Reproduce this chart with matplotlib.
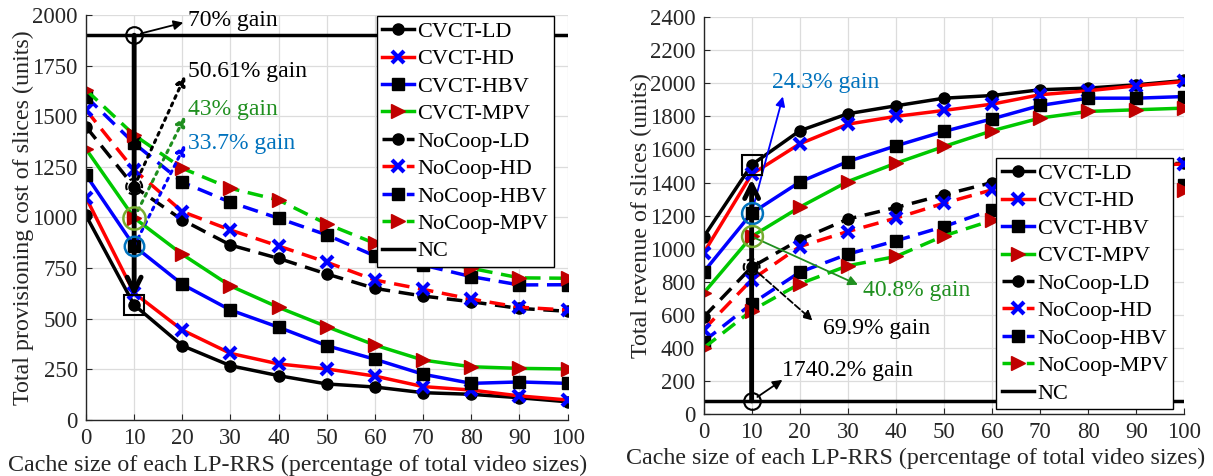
import matplotlib
matplotlib.use("Agg")
import matplotlib.pyplot as plt
from matplotlib.patches import Ellipse
import numpy as np

plt.rcParams['font.family'] = ['Liberation Serif', 'DejaVu Serif']
plt.rcParams['mathtext.fontset'] = 'stix'

x = [0, 10, 20, 30, 40, 50, 60, 70, 80, 90, 100]

# ---- Left: provisioning cost ----
cost_cvct_ld = [1010, 568, 367, 268, 219, 178, 163, 135, 127, 110, 90]
cost_cvct_hd = [1098, 627, 444, 329, 277, 252, 217, 165, 148, 119, 99]
cost_cvct_hbv = [1210, 859, 670, 543, 458, 367, 300, 226, 181, 188, 181]
cost_cvct_mpv = [1338, 998, 818, 662, 556, 461, 370, 296, 263, 255, 252]
cost_nc_ld = [1448, 1152, 988, 864, 798, 721, 650, 612, 584, 551, 537]
cost_nc_hd = [1531, 1235, 1029, 938, 859, 779, 691, 645, 597, 557, 543]
cost_nc_hbv = [1597, 1366, 1174, 1075, 996, 914, 810, 765, 708, 667, 668]
cost_nc_mpv = [1630, 1407, 1243, 1144, 1086, 968, 872, 800, 749, 702, 700]
cost_nc = 1900

# ---- Right: revenue ----
rev_cvct_ld = [1070, 1507, 1713, 1816, 1864, 1910, 1926, 1961, 1971, 1991, 2017]
rev_cvct_hd = [973, 1450, 1634, 1753, 1800, 1836, 1874, 1931, 1955, 1985, 2011]
rev_cvct_hbv = [858, 1215, 1403, 1527, 1622, 1709, 1785, 1866, 1910, 1910, 1920]
rev_cvct_mpv = [731, 1074, 1251, 1406, 1517, 1618, 1713, 1790, 1830, 1840, 1850]
rev_nc_ld = [586, 889, 1054, 1179, 1249, 1326, 1400, 1447, 1467, 1507, 1517]
rev_nc_hd = [510, 812, 1013, 1104, 1185, 1275, 1356, 1420, 1465, 1503, 1512]
rev_nc_hbv = [439, 667, 858, 967, 1048, 1134, 1235, 1290, 1330, 1365, 1386]
rev_nc_mpv = [399, 626, 788, 897, 953, 1078, 1171, 1230, 1280, 1320, 1352]
rev_nc = 80

labels = ['CVCT-LD', 'CVCT-HD', 'CVCT-HBV', 'CVCT-MPV',
          'NoCoop-LD', 'NoCoop-HD', 'NoCoop-HBV', 'NoCoop-MPV', 'NC']

RED = '#ff0000'
BLUE = '#0000ff'
GREEN = '#00c800'
TRI = '#c00000'
MBLUE = '#0072BD'
DGREEN = '#1f8f1f'
OLIVE = '#77AC30'
TXT = '#262626'

styles = [
    dict(color='black', marker='o', mfc='black', mec='black', ms=8),
    dict(color=RED, marker='x', mfc=BLUE, mec=BLUE, ms=8, mew=3),
    dict(color=BLUE, marker='s', mfc='black', mec='black', ms=8),
    dict(color=GREEN, marker='>', mfc=TRI, mec=TRI, ms=10),
]

fig = plt.figure(figsize=(12.13, 4.76), dpi=100)
ax1 = fig.add_axes([0.0709, 0.1176, 0.397, 0.851])
ax2 = fig.add_axes([0.580, 0.130, 0.3965, 0.834])


def draw(ax, cv, nc, ncval):
    hs = []
    for ys, st in zip(cv, styles):
        h, = ax.plot(x, ys, lw=2.5, **st)
        hs.append(h)
    for ys, st in zip(nc, styles):
        h, = ax.plot(x, ys, lw=2.5, ls=(0, (4.5, 2.5)), **st)
        hs.append(h)
    h = ax.axhline(ncval, color='black', lw=2.5)
    hs.append(h)
    return hs


def style_axes(ax):
    ax.grid(True, color='#dcdcdc', lw=0.9)
    ax.set_axisbelow(True)
    for s in ['top', 'right']:
        ax.spines[s].set_visible(False)
    for s in ['left', 'bottom']:
        ax.spines[s].set_color(TXT)
        ax.spines[s].set_linewidth(1.0)
    ax.tick_params(direction='in', length=4, width=0.8, colors=TXT, labelsize=16.5, pad=6)
    ax.set_xlim(0, 100)
    ax.set_xticks(range(0, 101, 10))
    ax.set_xlabel('Cache size of each LP-RRS (percentage of total video sizes)',
                  fontsize=17.3, color=TXT)
    ax.xaxis.set_label_coords(0.44, -0.085)
    ax.yaxis.set_label_coords(-0.108, 0.5)


hs1 = draw(ax1, [cost_cvct_ld, cost_cvct_hd, cost_cvct_hbv, cost_cvct_mpv],
           [cost_nc_ld, cost_nc_hd, cost_nc_hbv, cost_nc_mpv], cost_nc)
ax1.set_ylabel('Total provisioning cost of slices (units)', fontsize=17.3, color=TXT)
style_axes(ax1)
ax1.set_ylim(0, 2000)
ax1.set_yticks(range(0, 2001, 250))

hs2 = draw(ax2, [rev_cvct_ld, rev_cvct_hd, rev_cvct_hbv, rev_cvct_mpv],
           [rev_nc_ld, rev_nc_hd, rev_nc_hbv, rev_nc_mpv], rev_nc)
ax2.set_ylabel('Total revenue of slices (units)', fontsize=17.3, color=TXT)
style_axes(ax2)
ax2.set_ylim(0, 2400)
ax2.set_yticks(range(0, 2401, 200))

legkw = dict(fontsize=16, handlelength=1.45, handletextpad=0.12, labelspacing=0.31,
             borderpad=0.25, fancybox=False, framealpha=1, edgecolor='black',
             borderaxespad=0)
leg1 = ax1.legend(hs1, labels, loc='upper right', bbox_to_anchor=(0.971, 0.998), **legkw)
leg2 = ax2.legend(hs2, labels, loc='lower right', bbox_to_anchor=(0.977, 0.0126), **legkw)
for lg in (leg1, leg2):
    lg.get_frame().set_linewidth(1.0)
    lg.set_zorder(20)

AF = 17

# ---- Left annotations ----
ax1.annotate('', xy=(10, 610), xytext=(10, cost_nc),
             arrowprops=dict(arrowstyle='->', lw=3.5, color='black', mutation_scale=25,
                             shrinkA=0, shrinkB=0), zorder=6)
ax1.plot([10], [cost_nc], marker='o', ms=12, mfc='none', mec='black', mew=1.5, zorder=7)
ax1.plot([10], [cost_cvct_ld[1]], marker='s', ms=14, mfc='none', mec='black', mew=1.5, zorder=7)
ax1.plot([10], [cost_cvct_mpv[1]], marker='o', ms=16, mfc='none', mec=OLIVE, mew=1.8, zorder=7)
ax1.plot([10], [cost_cvct_hbv[1]], marker='o', ms=14, mfc='none', mec=MBLUE, mew=1.8, zorder=7)
ax1.add_patch(Ellipse((10, cost_nc_ld[1]), 3.3, 78, fill=False, ls='--', lw=1.5,
                      ec='black', zorder=7))

ax1.annotate('70% gain', xy=(20.2, 1962), xytext=(21.2, 1975), fontsize=AF, color='black',
             va='center', ha='left')
ax1.annotate('', xy=(20.2, 1962), xytext=(10, cost_nc),
             arrowprops=dict(arrowstyle='-|>', lw=1.3, color='black', mutation_scale=14,
                             shrinkA=5, shrinkB=0))

for (y0, y1, ytxt, txt, col, acol) in [
        (cost_nc_ld[1], 1700, 1722, '50.61% gain', 'black', 'black'),
        (cost_cvct_mpv[1], 1500, 1532, '43% gain', DGREEN, DGREEN),
        (cost_cvct_hbv[1], 1360, 1365, '33.7% gain', MBLUE, BLUE)]:
    ax1.annotate('', xy=(20.6, y1), xytext=(10, y0),
                 arrowprops=dict(arrowstyle='-|>', lw=2.2, ls=':', color=acol,
                                 mutation_scale=14, shrinkA=0, shrinkB=0))
    ax1.text(21.2, ytxt, txt, fontsize=AF, color=col, va='center', ha='left')

# ---- Right annotations ----
ax2.annotate('', xy=(10, 1420), xytext=(10, rev_nc),
             arrowprops=dict(arrowstyle='->', lw=3.5, color='black', mutation_scale=25,
                             shrinkA=0, shrinkB=0), zorder=6)
ax2.plot([10], [rev_nc], marker='o', ms=12, mfc='none', mec='black', mew=1.5, zorder=7)
ax2.plot([10], [rev_cvct_ld[1]], marker='s', ms=14, mfc='none', mec='black', mew=1.5, zorder=7)
ax2.plot([10], [rev_cvct_hbv[1]], marker='o', ms=15, mfc='none', mec=MBLUE, mew=1.8, zorder=7)
ax2.plot([10], [rev_cvct_mpv[1]], marker='o', ms=15, mfc='none', mec=OLIVE, mew=1.8, zorder=7)
ax2.add_patch(Ellipse((10, rev_nc_ld[1]), 3.3, 95, fill=False, ls='--', lw=1.5,
                      ec='black', zorder=7))

ax2.annotate('', xy=(16.5, 1920), xytext=(10, rev_cvct_hbv[1]),
             arrowprops=dict(arrowstyle='-|>', lw=1.3, color=BLUE, mutation_scale=14,
                             shrinkA=0, shrinkB=0))
ax2.text(14.3, 2003, '24.3% gain', fontsize=AF, color=MBLUE, va='center', ha='left')

ax2.annotate('', xy=(32.1, 782), xytext=(10, rev_cvct_mpv[1]),
             arrowprops=dict(arrowstyle='-|>', lw=1.3, color=DGREEN, mutation_scale=14,
                             shrinkA=0, shrinkB=0))
ax2.text(33.2, 745, '40.8% gain', fontsize=AF, color=DGREEN, va='center', ha='left')

ax2.annotate('', xy=(22.7, 566), xytext=(10, rev_nc_ld[1]),
             arrowprops=dict(arrowstyle='-|>', lw=1.3, ls='--', color='black',
                             mutation_scale=14, shrinkA=0, shrinkB=0))
ax2.text(24.8, 516, '69.9% gain', fontsize=AF, color='black', va='center', ha='left')

ax2.annotate('', xy=(16.4, 207), xytext=(10, rev_nc),
             arrowprops=dict(arrowstyle='-|>', lw=1.3, color='black', mutation_scale=14,
                             shrinkA=5, shrinkB=0))
ax2.text(16.4, 266, '1740.2% gain', fontsize=AF, color='black', va='center', ha='left')

fig.savefig('out.png', dpi=100)
